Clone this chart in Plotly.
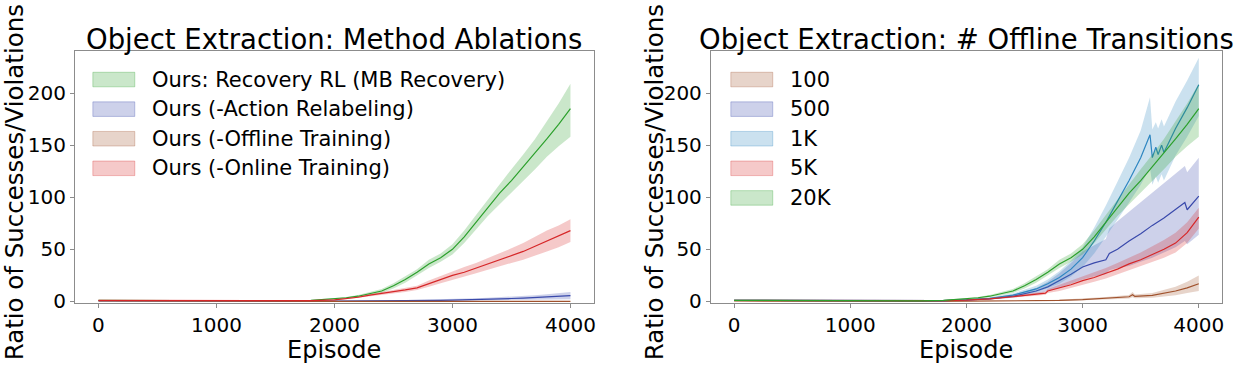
import plotly.graph_objects as go

# ---- left panel: method ablations ----
ep = [0, 400, 800, 1200, 1600, 1800, 2000, 2100, 2200, 2300, 2400, 2500, 2600, 2700, 2800, 2900,
      3000, 3100, 3200, 3300, 3400, 3500, 3600, 3700, 3800, 3900, 4000]

rec_mean = [1.0, 0.8, 0.6, 0.5, 0.6, 1.0, 2.5, 3.5, 5, 7.5, 10, 15, 21, 28, 36, 42,
            50, 62, 76, 90, 104, 116, 129, 142, 156, 170, 185]
rec_lo = [0.8, 0.6, 0.4, 0.3, 0.4, 0.7, 1.8, 2.8, 4, 6, 8, 12.5, 18, 25, 32, 38,
          45, 56, 69, 82, 94, 105, 116, 127, 139, 149, 158]
rec_hi = [1.2, 1.0, 0.8, 0.7, 0.8, 1.3, 3.2, 4.3, 6.2, 9, 12, 17.5, 24, 31, 40, 46,
          55, 68, 83, 98, 113, 127, 141, 156, 173, 190, 209]

relab_mean = [0.5, 0.3, 0.2, 0.2, 0.2, 0.3, 0.4, 0.4, 0.5, 0.5, 0.6, 0.7, 0.8, 0.9, 1.0, 1.1,
              1.3, 1.5, 1.8, 2.1, 2.4, 2.8, 3.2, 3.7, 4.2, 4.8, 5.5]
relab_lo = [0.3, 0.2, 0.1, 0.1, 0.1, 0.1, 0.2, 0.2, 0.3, 0.3, 0.3, 0.3, 0.4, 0.4, 0.5, 0.5,
            0.6, 0.7, 0.8, 0.9, 1.0, 1.2, 1.4, 1.6, 1.8, 2.0, 2.2]
relab_hi = [0.7, 0.5, 0.4, 0.3, 0.3, 0.5, 0.7, 0.7, 0.8, 0.9, 1.0, 1.1, 1.3, 1.5, 1.7, 1.9,
            2.2, 2.6, 3.0, 3.5, 4.0, 4.6, 5.2, 6.0, 6.8, 7.8, 9.0]

offl_mean = [0.4, 0.2, 0.1, 0.1, 0.1, 0.1, 0.1, 0.1, 0.1, 0.1, 0.1, 0.1, 0.1, 0.1, 0.1, 0.1,
             0.1, 0.1, 0.1, 0.1, 0.1, 0.1, 0.1, 0.1, 0.1, 0.1, 0.1]
offl_lo = [0.2, 0.1, 0, 0, 0, 0, 0, 0, 0, 0, 0, 0, 0, 0, 0, 0,
           0, 0, 0, 0, 0, 0, 0, 0, 0, 0, 0]
offl_hi = [0.6, 0.3, 0.2, 0.2, 0.2, 0.2, 0.2, 0.2, 0.2, 0.2, 0.2, 0.2, 0.2, 0.2, 0.2, 0.2,
           0.2, 0.2, 0.3, 0.3, 0.3, 0.3, 0.3, 0.3, 0.3, 0.3, 0.3]

onl_mean = [1.0, 0.8, 0.6, 0.5, 0.6, 0.8, 1.5, 2.5, 4, 6, 7.5, 9, 11, 13, 17, 21,
            25, 28, 32, 36, 40, 44, 48, 53, 58, 63, 68]
onl_lo = [0.8, 0.6, 0.4, 0.3, 0.4, 0.6, 1.1, 2.0, 3, 5, 6, 7.5, 9, 11, 14, 17.5,
          21, 24, 27, 30.5, 34, 37, 40, 44, 48, 52, 57]
onl_hi = [1.2, 1.0, 0.8, 0.7, 0.8, 1.0, 1.9, 3.0, 5, 7, 9, 10.5, 13, 15, 20, 24.5,
          29, 33, 37, 41.5, 46, 51, 56, 62, 68, 73, 79]

# ---- right panel: number of offline transitions ----
ep_100 = [0, 400, 800, 1200, 1600, 2000, 2400, 2800, 3000, 3200, 3400, 3430, 3450, 3600, 3800, 3900, 4000]
n100_mean = [0.4, 0.2, 0.1, 0.1, 0.1, 0.2, 0.4, 1.0, 1.8, 3.0, 4.5, 6.5, 4.8, 5.8, 10, 13, 17]
n100_lo = [0.2, 0.1, 0, 0, 0, 0.1, 0.2, 0.5, 1, 1.8, 2.8, 4, 3, 3.5, 6, 8, 10]
n100_hi = [0.6, 0.3, 0.2, 0.2, 0.2, 0.3, 0.6, 1.5, 2.6, 4.2, 6.2, 9, 6.6, 8, 14, 19, 25]

ep_500 = [0, 400, 800, 1200, 1600, 1800, 2000, 2200, 2400, 2600, 2700, 2800, 2900, 3000, 3100, 3200,
          3230, 3300, 3400, 3500, 3600, 3700, 3800, 3880, 3900, 4000]
n500_mean = [1.0, 0.8, 0.6, 0.5, 0.6, 0.8, 1.4, 2.5, 5, 10, 14, 20, 26, 33, 37, 40,
             46, 50, 58, 65, 73, 80, 88, 95, 88, 101]
n500_lo = [0.8, 0.6, 0.4, 0.3, 0.4, 0.6, 1.0, 1.8, 3.5, 7, 10, 13, 17, 21, 24, 26,
           30, 32, 34, 38, 42, 47, 52, 58, 55, 64]
n500_hi = [1.2, 1.0, 0.8, 0.7, 0.8, 1.0, 1.8, 3.2, 6.5, 13, 19, 27, 37, 48, 54, 60,
           70, 77, 86, 95, 104, 113, 122, 130, 124, 138]

ep_1k = [0, 400, 800, 1200, 1600, 1800, 2000, 2200, 2400, 2600, 2700, 2800, 2900, 3000, 3100, 3200,
         3300, 3400, 3500, 3580, 3600, 3630, 3650, 3680, 3700, 3800, 3900, 4000]
n1k_mean = [1.0, 0.8, 0.6, 0.5, 0.6, 0.8, 1.5, 3, 6, 12, 17, 23, 31, 42, 58, 76,
            96, 116, 138, 160, 138, 148, 141, 150, 143, 166, 186, 208]
n1k_lo = [0.8, 0.6, 0.4, 0.3, 0.4, 0.6, 1.1, 2.2, 4.5, 9, 13, 17, 24, 33, 46, 62,
          78, 95, 112, 128, 112, 120, 114, 122, 116, 140, 158, 178]
n1k_hi = [1.2, 1.0, 0.8, 0.7, 0.8, 1.0, 1.9, 3.8, 7.5, 15, 21, 29, 39, 52, 71, 92,
          115, 138, 164, 196, 165, 172, 166, 175, 168, 192, 212, 234]

ep_5k = [0, 400, 800, 1200, 1600, 1800, 2000, 2200, 2400, 2600, 2680, 2700, 2800, 2900, 3000, 3100,
         3200, 3300, 3400, 3500, 3600, 3700, 3800, 3900, 4000]
n5k_mean = [1.0, 0.8, 0.6, 0.5, 0.6, 0.8, 1.3, 2.5, 4.5, 7, 8, 10, 13, 16, 20, 23,
            27, 31, 36, 40, 45, 50, 56, 66, 81]
n5k_lo = [0.8, 0.6, 0.4, 0.3, 0.4, 0.6, 1.0, 1.8, 3.3, 5.5, 6.5, 8, 10, 13, 16, 19,
          22, 26, 30, 34, 38, 42, 47, 56, 70]
n5k_hi = [1.2, 1.0, 0.8, 0.7, 0.8, 1.0, 1.6, 3.2, 5.7, 8.5, 9.5, 12, 16, 20, 24, 28,
          32, 37, 42, 47, 53, 59, 66, 76, 90]

# 20K is the default setting (same run as Recovery RL)
n20k_mean, n20k_lo, n20k_hi = rec_mean, rec_lo, rec_hi

x_ticks = [0, 1000, 2000, 3000, 4000]
y_ticks = [0, 50, 100, 150, 200]

GREEN = (44, 160, 44)
BLUE = (57, 73, 171)
BROWN = (160, 82, 45)
RED = (214, 39, 40)
LBLUE = (46, 134, 193)

left = [
    ("Ours: Recovery RL (MB Recovery)", ep, rec_mean, rec_lo, rec_hi, GREEN),
    ("Ours (-Action Relabeling)", ep, relab_mean, relab_lo, relab_hi, BLUE),
    ("Ours (-Offline Training)", ep, offl_mean, offl_lo, offl_hi, BROWN),
    ("Ours (-Online Training)", ep, onl_mean, onl_lo, onl_hi, RED),
]
right = [
    ("100", ep_100, n100_mean, n100_lo, n100_hi, BROWN),
    ("500", ep_500, n500_mean, n500_lo, n500_hi, BLUE),
    ("1K", ep_1k, n1k_mean, n1k_lo, n1k_hi, LBLUE),
    ("5K", ep_5k, n5k_mean, n5k_lo, n5k_hi, RED),
    ("20K", ep, n20k_mean, n20k_lo, n20k_hi, GREEN),
]


def rgba(c, a):
    return "rgba(%d,%d,%d,%s)" % (c[0], c[1], c[2], a)


FONT = "DejaVu Sans"
W, H = 1241, 368
TOP, BOT = 53, 312

fig = go.Figure()
shapes = []
annotations = []

panels = [
    (left, "x", "y", (75, 595), "Object Extraction: Method Ablations", 14),
    (right, "x2", "y2", (712, 1224), "Object Extraction: # Offline Transitions", 655),
]

for series, xa, ya, (px0, px1), title, ylab_x in panels:
    for name, xs, m, lo, hi, c in series:
        fig.add_trace(go.Scatter(x=xs + xs[::-1], y=hi + lo[::-1], fill="toself",
                                 fillcolor=rgba(c, 0.25), line=dict(width=0),
                                 mode="lines", hoverinfo="skip", showlegend=False,
                                 xaxis=xa, yaxis=ya))
        fig.add_trace(go.Scatter(x=xs, y=m, mode="lines", name=name,
                                 line=dict(color=rgba(c, 1), width=1.2),
                                 showlegend=False, xaxis=xa, yaxis=ya))

    # legend drawn by hand (matplotlib-like patches)
    dom = xa + " domain"
    ydom = ya + " domain"
    wpx = px1 - px0
    off = 18 if xa == "x" else 20
    for i, (name, xs, m, lo, hi, c) in enumerate(series):
        yc = 82 + 30.5 * i
        yf = (BOT - yc) / (BOT - TOP)
        hh = 7.5 / (BOT - TOP)
        shapes.append(dict(type="rect", xref=dom, yref=ydom,
                           x0=off / wpx, x1=(off + 42) / wpx, y0=yf - hh, y1=yf + hh,
                           fillcolor=rgba(c, 0.25), line=dict(color=rgba(c, 0.3), width=1)))
        annotations.append(dict(xref=dom, yref=ydom, x=(off + 57) / wpx, y=yf,
                                xanchor="left", yanchor="middle", showarrow=False,
                                text=name, font=dict(size=21, color="black", family=FONT)))

    cx = (px0 + px1) / 2 / W
    annotations.append(dict(xref="paper", yref="paper", x=cx, y=1 - 59 / H,
                            xanchor="center", yanchor="bottom", showarrow=False,
                            text=title, font=dict(size=27.5, color="black", family=FONT)))
    annotations.append(dict(xref="paper", yref="paper", x=cx, y=1 - 377 / H,
                            xanchor="center", yanchor="bottom", showarrow=False,
                            text="Episode", font=dict(size=24, color="black", family=FONT)))
    annotations.append(dict(xref="paper", yref="paper", x=ylab_x / W, y=1 - 188 / H,
                            xanchor="center", yanchor="middle", textangle=-90, showarrow=False,
                            text="Ratio of Successes/Violations",
                            font=dict(size=24.5, color="black", family=FONT)))

axis_common = dict(showline=True, mirror=True, linecolor="#8c8c8c", linewidth=1,
                   ticks="outside", ticklen=4, tickcolor="#8c8c8c", showgrid=False,
                   zeroline=False, tickfont=dict(size=20, color="black", family=FONT))
ydom = [(H - BOT) / H, (H - TOP) / H]

fig.update_layout(
    width=W, height=H,
    margin=dict(l=0, r=0, t=0, b=0),
    paper_bgcolor="white", plot_bgcolor="white",
    showlegend=False,
    font=dict(family=FONT, color="black"),
    xaxis=dict(domain=[75 / W, 595 / W], range=[-200, 4200], tickvals=x_ticks, anchor="y", **axis_common),
    yaxis=dict(domain=ydom, range=[-1.2, 240], tickvals=y_ticks, anchor="x", **axis_common),
    xaxis2=dict(domain=[712 / W, 1224 / W], range=[-200, 4200], tickvals=x_ticks, anchor="y2", **axis_common),
    yaxis2=dict(domain=ydom, range=[-1.2, 240], tickvals=y_ticks, anchor="x2", **axis_common),
    shapes=shapes,
    annotations=annotations,
)

# the page body has a default 8px margin; drop it so the figure fills the window
fig.write_html("out.html", config={"displayModeBar": False},
               post_script="document.body.style.margin='0';")
